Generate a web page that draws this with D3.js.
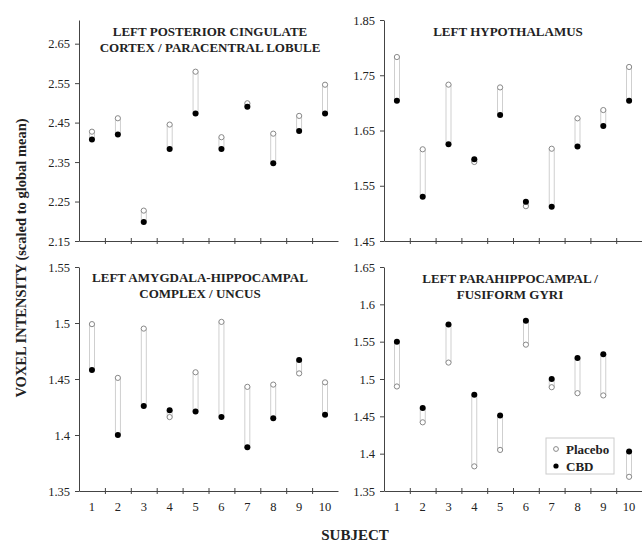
<!DOCTYPE html>
<html>
<head>
<meta charset="utf-8">
<script src="https://cdn.jsdelivr.net/npm/d3@7"></script>
<style>
body { margin: 0; background: #fff; }
text { font-family: "Liberation Serif", "Times New Roman", serif; fill: #222; }
</style>
</head>
<body>
<script>
let width = 642;
let height = 543;

// subjects on the x axis
let subjects = [1, 2, 3, 4, 5, 6, 7, 8, 9, 10];

// left posterior cingulate cortex / paracentral lobule
let cingulatePlacebo = [2.427, 2.461, 2.227, 2.445, 2.579, 2.413, 2.499, 2.422, 2.467, 2.546];
let cingulateCBD     = [2.407, 2.420, 2.198, 2.383, 2.473, 2.383, 2.490, 2.347, 2.429, 2.473];
let cingulateTicks   = ['2.15', '2.25', '2.35', '2.45', '2.55', '2.65'];

// left hypothalamus
let hypoPlacebo = [1.783, 1.616, 1.733, 1.593, 1.728, 1.513, 1.617, 1.672, 1.687, 1.765];
let hypoCBD     = [1.704, 1.530, 1.625, 1.598, 1.678, 1.521, 1.512, 1.621, 1.658, 1.704];
let hypoTicks   = ['1.45', '1.55', '1.65', '1.75', '1.85'];

// left amygdala-hippocampal complex / uncus
let amygPlacebo = [1.499, 1.451, 1.495, 1.416, 1.456, 1.501, 1.443, 1.445, 1.455, 1.447];
let amygCBD     = [1.458, 1.400, 1.426, 1.422, 1.421, 1.416, 1.389, 1.415, 1.467, 1.418];
let amygTicks   = ['1.35', '1.4', '1.45', '1.5', '1.55'];

// left parahippocampal / fusiform gyri
let paraPlacebo = [1.490, 1.442, 1.522, 1.383, 1.405, 1.546, 1.489, 1.481, 1.478, 1.369];
let paraCBD     = [1.550, 1.461, 1.573, 1.479, 1.451, 1.578, 1.500, 1.528, 1.533, 1.403];
let paraTicks   = ['1.35', '1.4', '1.45', '1.5', '1.55', '1.6', '1.65'];

let panels = [
    { title: ['LEFT POSTERIOR CINGULATE', 'CORTEX / PARACENTRAL LOBULE'],
      placebo: cingulatePlacebo, cbd: cingulateCBD, ticks: cingulateTicks, top: 2.71,
      left: 79, right: 338, bottom: 241, upper: 20, titleX: 210, titleY: 36, labels: false },
    { title: ['LEFT HYPOTHALAMUS'],
      placebo: hypoPlacebo, cbd: hypoCBD, ticks: hypoTicks, top: 1.85,
      left: 384, right: 642, bottom: 241, upper: 20, titleX: 508, titleY: 36, labels: false },
    { title: ['LEFT AMYGDALA-HIPPOCAMPAL', 'COMPLEX / UNCUS'],
      placebo: amygPlacebo, cbd: amygCBD, ticks: amygTicks, top: 1.55,
      left: 79, right: 338, bottom: 491, upper: 267, titleX: 200, titleY: 282, labels: true },
    { title: ['LEFT PARAHIPPOCAMPAL /', 'FUSIFORM GYRI'],
      placebo: paraPlacebo, cbd: paraCBD, ticks: paraTicks, top: 1.65,
      left: 384, right: 642, bottom: 491, upper: 267, titleX: 510, titleY: 283, labels: true }
];

let svg = d3.select('body').append('svg')
            .attr('width', width)
            .attr('height', height);

panels.forEach(function(p) {
    let g = svg.append('g');

    let xScale = d3.scaleLinear()
                   .domain([0.5, subjects.length + 0.5])
                   .range([p.left, p.right]);

    let yScale = d3.scaleLinear()
                   .domain([+p.ticks[0], p.top])
                   .range([p.bottom, p.upper]);

    // y axis
    let yAxis = g.append('g')
        .attr('transform', 'translate(' + p.left + ',0)')
        .call(d3.axisLeft(yScale)
                .tickValues(p.ticks.map(Number))
                .tickFormat(function(d, i) { return p.ticks[i]; })
                .tickSize(4)
                .tickSizeOuter(0)
                .tickPadding(5));
    yAxis.selectAll('text').style('font-size', '12.5px');

    // x axis line with crossing ticks on subject boundaries
    let xAxis = g.append('g')
        .attr('transform', 'translate(0,' + p.bottom + ')')
        .call(d3.axisBottom(xScale)
                .tickValues(subjects.slice(1).map(function(d) { return d - 0.5; }))
                .tickFormat('')
                .tickSizeOuter(0));
    xAxis.selectAll('.tick line').attr('y1', -3).attr('y2', 3);

    g.selectAll('.domain, .tick line').attr('stroke', '#444').attr('stroke-width', 1);

    if (p.labels) {
        g.selectAll('.subjlabel')
            .data(subjects)
            .enter()
            .append('text')
            .attr('class', 'subjlabel')
            .attr('x', function(d) { return xScale(d); })
            .attr('y', p.bottom + 20)
            .attr('text-anchor', 'middle')
            .style('font-size', '12.5px')
            .text(function(d) { return d; });
    }

    // title
    g.selectAll('.ptitle')
        .data(p.title)
        .enter()
        .append('text')
        .attr('class', 'ptitle')
        .attr('x', p.titleX)
        .attr('y', function(d, i) { return p.titleY + i * 16; })
        .attr('text-anchor', 'middle')
        .style('font-size', '13px')
        .style('font-weight', 'bold')
        .text(function(d) { return d; });

    // connecting bars
    g.selectAll('.link')
        .data(subjects)
        .enter()
        .append('rect')
        .attr('x', function(d) { return xScale(d) - 2.5; })
        .attr('width', 5)
        .attr('y', function(d, i) { return yScale(Math.max(p.placebo[i], p.cbd[i])); })
        .attr('height', function(d, i) { return Math.abs(yScale(p.placebo[i]) - yScale(p.cbd[i])); })
        .attr('fill', 'none')
        .attr('stroke', '#c4c4c4')
        .attr('stroke-width', 0.8);

    g.selectAll('.plc')
        .data(p.placebo)
        .enter()
        .append('circle')
        .attr('cx', function(d, i) { return xScale(subjects[i]); })
        .attr('cy', function(d) { return yScale(d); })
        .attr('r', 2.6)
        .attr('fill', '#fff')
        .attr('stroke', '#888')
        .attr('stroke-width', 1);

    g.selectAll('.cbd')
        .data(p.cbd)
        .enter()
        .append('circle')
        .attr('cx', function(d, i) { return xScale(subjects[i]); })
        .attr('cy', function(d) { return yScale(d); })
        .attr('r', 3)
        .attr('fill', '#000');
});

// legend
let legend = svg.append('g');
legend.append('rect')
    .attr('x', 546).attr('y', 438)
    .attr('width', 68).attr('height', 36)
    .attr('fill', '#fff')
    .attr('stroke', '#ccc');
legend.append('circle').attr('cx', 556).attr('cy', 449).attr('r', 2.4)
    .attr('fill', '#fff').attr('stroke', '#888');
legend.append('circle').attr('cx', 556).attr('cy', 466).attr('r', 2.6).attr('fill', '#000');
legend.append('text').attr('x', 566).attr('y', 453.5)
    .style('font-size', '13px').style('font-weight', 'bold').text('Placebo');
legend.append('text').attr('x', 566).attr('y', 470.5)
    .style('font-size', '13px').style('font-weight', 'bold').text('CBD');

// axis titles
svg.append('text')
    .attr('transform', 'translate(26,258) rotate(-90)')
    .attr('text-anchor', 'middle')
    .style('font-size', '14.5px')
    .style('font-weight', 'bold')
    .text('VOXEL INTENSITY (scaled to global mean)');

svg.append('text')
    .attr('x', 355)
    .attr('y', 540)
    .attr('text-anchor', 'middle')
    .style('font-size', '15px')
    .style('font-weight', 'bold')
    .text('SUBJECT');
</script>
</body>
</html>
